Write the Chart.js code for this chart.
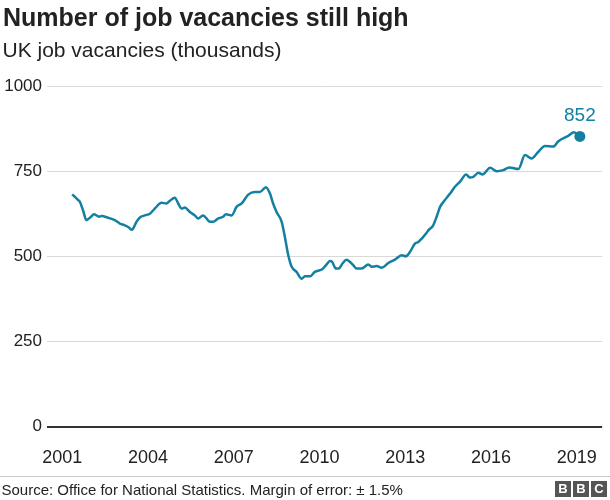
<!DOCTYPE html>
<html>
<head>
<meta charset="utf-8">
<script src="https://cdn.jsdelivr.net/npm/chart.js@4.4.1/dist/chart.umd.min.js"></script>
<style>
  body { margin: 0; background: #fff; font-family: 'Liberation Sans', Arial, Helvetica, sans-serif; }
  #wrap { position: relative; width: 610px; height: 500px; overflow: hidden; }
  #chart { position: absolute; left: 0; top: 0; }
  .txt { position: absolute; white-space: nowrap; line-height: 1; color: #222; }
  #title { left: 3px; top: 5px; font-size: 25px; font-weight: bold; }
  #subtitle { left: 2.5px; top: 39px; font-size: 21px; }
  #source { left: 1.5px; top: 482px; font-size: 15px; }
  #rule { position: absolute; left: 0; top: 476px; width: 610px; height: 1px; background: #c8c8c8; }
  .bbc { position: absolute; top: 481px; width: 16px; height: 16px; background: #555; color: #fff;
         font-weight: bold; font-size: 13px; line-height: 16px; text-align: center; }
</style>
</head>
<body>
<div id="wrap">
  <canvas id="chart" width="610" height="500"></canvas>
  <div class="txt" id="title">Number of job vacancies still high</div>
  <div class="txt" id="subtitle">UK job vacancies (thousands)</div>
  <div id="rule"></div>
  <div class="txt" id="source">Source: Office for National Statistics. Margin of error: ± 1.5%</div>
  <div class="bbc" style="left:555px">B</div>
  <div class="bbc" style="left:573px">B</div>
  <div class="bbc" style="left:591px">C</div>
</div>
<script>
// dates as decimal years, vacancies in thousands
const years = [
  2001.35, 2001.56, 2001.62, 2001.73, 2001.85, 2001.97, 2002.12, 2002.22, 2002.29, 2002.38,
  2002.61, 2002.84, 2003.02, 2003.19, 2003.31, 2003.43, 2003.48, 2003.60, 2003.72, 2003.89,
  2004.07, 2004.24, 2004.48, 2004.65, 2004.77, 2004.94, 2005.06, 2005.18, 2005.29, 2005.47,
  2005.64, 2005.76, 2005.93, 2006.05, 2006.17, 2006.28, 2006.46, 2006.63, 2006.73, 2006.93,
  2007.10, 2007.28, 2007.51, 2007.74, 2007.92, 2008.13, 2008.27, 2008.38, 2008.50, 2008.68,
  2008.79, 2008.91, 2009.03, 2009.20, 2009.38, 2009.49, 2009.67, 2009.84, 2010.08, 2010.23,
  2010.37, 2010.45, 2010.57, 2010.68, 2010.80, 2010.95, 2011.07, 2011.18, 2011.30, 2011.48,
  2011.71, 2011.83, 2012.00, 2012.18, 2012.41, 2012.64, 2012.88, 2013.02, 2013.17, 2013.34,
  2013.46, 2013.58, 2013.75, 2013.81, 2013.98, 2014.10, 2014.22, 2014.39, 2014.57, 2014.74,
  2014.92, 2015.13, 2015.27, 2015.38, 2015.56, 2015.71, 2015.79, 2015.97, 2016.20, 2016.43,
  2016.64, 2016.96, 2017.19, 2017.42, 2017.66, 2017.89, 2018.18, 2018.36, 2018.71, 2018.90,
  2019.11
];
const vacancies = [
  682, 665, 660, 635, 606, 613, 623, 619, 616, 618,
  613, 606, 596, 591, 586, 578, 581, 601, 614, 620,
  625, 640, 657, 655, 663, 672, 655, 640, 643, 630,
  620, 611, 620, 611, 601, 601, 611, 616, 623, 620,
  645, 655, 681, 689, 689, 703, 684, 655, 630, 601,
  557, 503, 469, 454, 434, 441, 441, 454, 461, 474,
  486, 483, 464, 464, 478, 490, 483, 474, 464, 464,
  476, 469, 471, 466, 480, 490, 503, 500, 513, 537,
  542, 552, 569, 576, 591, 616, 645, 665, 684, 704,
  719, 740, 731, 733, 745, 740, 745, 760, 750, 753,
  761, 756, 797, 787, 807, 824, 822, 838, 854, 864,
  852
];
const yTicks = [0, 250, 500, 750, 1000];
const xTicks = [2001, 2004, 2007, 2010, 2013, 2016, 2019];

const lineColour = '#1380a1';
const last = vacancies.length - 1;

const endLabel = {
  id: 'endLabel',
  afterDatasetsDraw(chart) {
    const pt = chart.getDatasetMeta(0).data[last];
    const ctx = chart.ctx;
    ctx.save();
    ctx.fillStyle = lineColour;
    ctx.font = "19px 'Liberation Sans', Arial, sans-serif";
    ctx.textAlign = 'center';
    ctx.textBaseline = 'middle';
    ctx.fillText(String(vacancies[last]), pt.x, pt.y - 21);
    ctx.restore();
  }
};

new Chart(document.getElementById('chart').getContext('2d'), {
  type: 'line',
  data: {
    datasets: [{
      data: years.map((t, i) => ({ x: t, y: vacancies[i] })),
      borderColor: lineColour,
      backgroundColor: lineColour,
      borderWidth: 2.5,
      cubicInterpolationMode: 'monotone',
      pointRadius: ctx => ctx.dataIndex === last ? 5.5 : 0,
      pointBorderWidth: 0,
      pointHoverRadius: 0
    }]
  },
  options: {
    responsive: false,
    animation: false,
    devicePixelRatio: 1,
    layout: { padding: { top: 86, right: 6, bottom: 13.5, left: 0 } },
    plugins: { legend: { display: false }, tooltip: { enabled: false } },
    scales: {
      x: {
        type: 'linear',
        min: 2000.47,
        max: 2019.89,
        afterBuildTicks: s => { s.ticks = xTicks.map(v => ({ value: v })); },
        afterFit: s => { s.height = 60; },
        grid: { display: false },
        border: { display: false },
        ticks: {
          padding: 13,
          color: '#222',
          font: { family: "'Liberation Sans', Arial, sans-serif", size: 18 },
          callback: v => String(v)
        }
      },
      y: {
        min: 0,
        max: 1000,
        afterBuildTicks: s => { s.ticks = yTicks.map(v => ({ value: v })); },
        afterFit: s => { s.width = 47; },
        border: { display: false },
        grid: {
          drawTicks: false,
          color: ctx => ctx.tick.value === 0 ? '#333' : '#d9d9d9',
          lineWidth: ctx => ctx.tick.value === 0 ? 2 : 1
        },
        ticks: {
          padding: 5,
          color: '#222',
          font: { family: "'Liberation Sans', Arial, sans-serif", size: 17 },
          callback: v => String(v)
        }
      }
    }
  },
  plugins: [endLabel]
});
</script>
</body>
</html>
